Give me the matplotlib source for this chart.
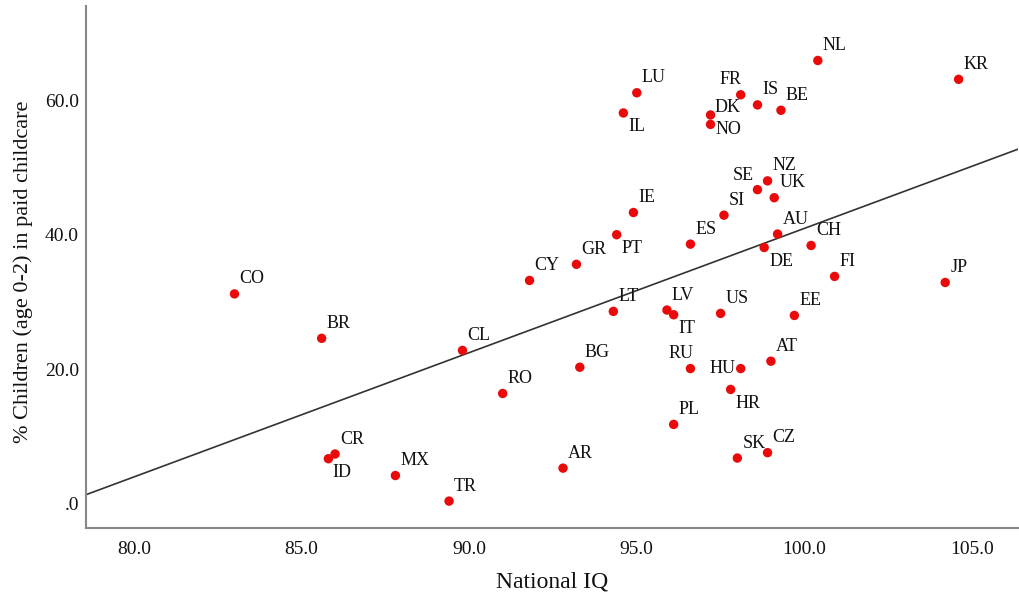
import numpy as np
import matplotlib
matplotlib.use("Agg")
import matplotlib.pyplot as plt

countries = ["CO", "BR", "CL", "RO", "CR", "ID", "MX", "TR",
             "LT", "LV", "IT", "US", "EE", "BG", "RU", "HU", "AT", "HR",
             "PL", "SK", "CZ", "AR",
             "NL", "KR", "LU", "FR", "IS", "BE", "IL", "DK", "NO",
             "NZ", "SE", "UK", "IE", "SI", "AU", "PT", "ES", "CH", "DE",
             "GR", "CY", "FI", "JP"]
national_iq = [83.0, 85.6, 89.8, 91.0, 86.0, 85.8, 87.8, 89.4,
               94.3, 95.9, 96.1, 97.5, 99.7, 93.3, 96.6, 98.1, 99.0, 97.8,
               96.1, 98.0, 98.9, 92.8,
               100.4, 104.6, 95.0, 98.1, 98.6, 99.3, 94.6, 97.2, 97.2,
               98.9, 98.6, 99.1, 94.9, 97.6, 99.2, 94.4, 96.6, 100.2, 98.8,
               93.2, 91.8, 100.9, 104.2]
childcare_pct = [31.2, 24.6, 22.8, 16.4, 7.4, 6.7, 4.2, 0.4,
                 28.6, 28.8, 28.1, 28.3, 28.0, 20.3, 20.1, 20.1, 21.2, 17.0,
                 11.8, 6.8, 7.6, 5.3,
                 65.9, 63.1, 61.1, 60.8, 59.3, 58.5, 58.1, 57.8, 56.4,
                 48.0, 46.7, 45.5, 43.3, 42.9, 40.1, 40.0, 38.6, 38.4, 38.1,
                 35.6, 33.2, 33.8, 32.9]
x_ticks = [80.0, 85.0, 90.0, 95.0, 100.0, 105.0]
x_tick_labels = ["80.0", "85.0", "90.0", "95.0", "100.0", "105.0"]
y_ticks = [0, 20, 40, 60]
y_tick_labels = [".0", "20.0", "40.0", "60.0"]

# label placement styles (offset in pixels, horizontal alignment)
default_place = ((5, 15), "left")
special_place = {
    "IL": ((5, -14), "left"), "PT": ((5, -14), "left"), "DE": ((5, -14), "left"),
    "IT": ((5, -14), "left"), "HR": ((5, -14), "left"), "ID": ((4, -14), "left"),
    "NO": ((5, -5), "left"), "DK": ((4, 7), "left"),
    "FR": ((1, 15), "right"), "SE": ((-4, 14), "right"), "RU": ((3, 15), "right"),
    "HU": ((-5, 0), "right"),
}

plt.rcParams["font.family"] = ["Liberation Serif", "DejaVu Serif"]

fig = plt.figure(figsize=(10.2, 6.0), dpi=100)
ax = fig.add_axes([0.0843, 0.12, 0.9137, 0.87])

x = np.array(national_iq)
y = np.array(childcare_pct)

xlim = (78.57, 106.37)
ax.set_xlim(*xlim)
ax.set_ylim(-3.6, 74.0)

slope, intercept = np.polyfit(x, y, 1)
xl = np.array(xlim)
ax.plot(xl, intercept + slope * xl, color="#333333", linewidth=1.2, zorder=2)

ax.scatter(x, y, s=46, color="#ea0a0a", edgecolors="none", zorder=3)

for c, xi, yi in zip(countries, x, y):
    (dx, dy), ha = special_place.get(c, default_place)
    ax.annotate(c, (xi, yi), xytext=(dx, dy), textcoords="offset pixels",
                ha=ha, va="center", fontsize=13, color="#111111", zorder=4)

ax.set_xticks(x_ticks)
ax.set_xticklabels(x_tick_labels)
ax.set_yticks(y_ticks)
ax.set_yticklabels(y_tick_labels)
ax.tick_params(axis="x", length=0, labelsize=14, colors="#111111", pad=9)
ax.tick_params(axis="y", length=0, labelsize=14, colors="#111111", pad=5)

for side in ["top", "right"]:
    ax.spines[side].set_visible(False)
for side in ["left", "bottom"]:
    ax.spines[side].set_color("#888888")
    ax.spines[side].set_linewidth(1.5)

ax.set_xlabel("National IQ", fontsize=17, color="#111111", labelpad=10)
ax.set_ylabel("% Children (age 0-2) in paid childcare", fontsize=16,
              color="#111111", labelpad=9)
ax.yaxis.set_label_coords(-0.057, 0.49)

fig.savefig("out.png", dpi=100)
